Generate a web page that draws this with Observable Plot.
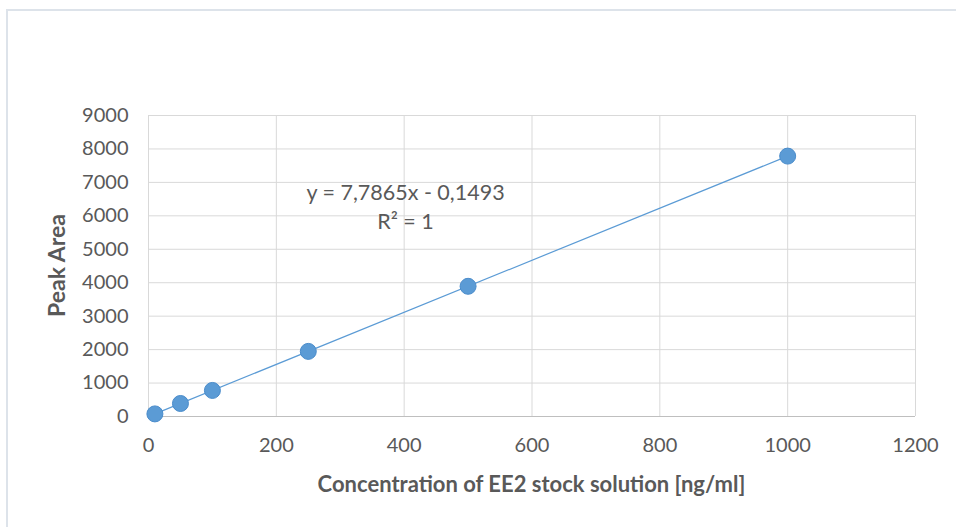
<!DOCTYPE html>
<html>
<head>
<meta charset="utf-8">
<script src="https://cdn.jsdelivr.net/npm/d3@7"></script>
<script src="https://cdn.jsdelivr.net/npm/@observablehq/plot@0.6"></script>
<style>
  html, body { margin: 0; padding: 0; background: #fff; }
  #wrap { position: relative; width: 956px; height: 527px; overflow: hidden; }
  #frame { position: absolute; left: 6px; top: 9px; width: 1000px; height: 600px;
           border-top: 2px solid #dde3ea; border-left: 2px solid #dde3ea; }
  #chart { position: absolute; left: 0; top: 0; }
</style>
</head>
<body>
<div id="wrap"><div id="frame"></div><div id="chart"></div></div>
<script>
const concentrations = [10, 50, 100, 250, 500, 1000];
const peakAreas = [78, 389, 779, 1947, 3893, 7786];
const slope = 7.7865;
const intercept = -0.1493;
const xTicks = [0, 200, 400, 600, 800, 1000, 1200];
const yTicks = [0, 1000, 2000, 3000, 4000, 5000, 6000, 7000, 8000, 9000];
const equationLabel = "y = 7,7865x - 0,1493";
const r2Label = "R² = 1";
const xTitle = "Concentration of EE2 stock solution [ng/ml]";
const yTitle = "Peak Area";

const points = concentrations.map((c, i) => ({x: c, y: peakAreas[i]}));
const trend = [concentrations[0], concentrations[concentrations.length - 1]]
  .map(c => ({x: c, y: slope * c + intercept}));

const font = "Lato, 'Open Sans', sans-serif";
const textColor = "#595959";
const fmt = d3.format("d");

const chart = Plot.plot({
  width: 956,
  height: 527,
  marginLeft: 148,
  marginRight: 41,
  marginTop: 115,
  marginBottom: 111,
  style: {fontFamily: font, fontSize: "20px", color: textColor, background: "transparent", overflow: "visible"},
  x: {domain: [0, 1200], ticks: xTicks, tickSize: 0, tickPadding: 21, label: null},
  y: {domain: [0, 9000], ticks: yTicks, tickSize: 0, tickPadding: 20, label: null},
  marks: [
    Plot.gridX(xTicks, {stroke: "#d9d9d9", strokeOpacity: 1, strokeWidth: 1}),
    Plot.gridY(yTicks, {stroke: "#d9d9d9", strokeOpacity: 1, strokeWidth: 1}),
    Plot.ruleY([0], {stroke: "#bfbfbf", strokeWidth: 1}),
    Plot.axisX({ticks: xTicks, tickSize: 0, tickPadding: 21, tickFormat: fmt, fill: textColor, fontSize: 20, label: null}),
    Plot.axisY({ticks: yTicks, tickSize: 0, tickPadding: 20, tickFormat: fmt, fill: textColor, fontSize: 20, label: null}),
    Plot.line(trend, {x: "x", y: "y", stroke: "#5b9bd5", strokeWidth: 1.2}),
    Plot.dot(points, {x: "x", y: "y", r: 8, fill: "#5b9bd5", stroke: "#4a8ccb", strokeWidth: 1}),
    Plot.text([equationLabel], {frameAnchor: "top-left", dx: 257, dy: 69, fontSize: 21.5, fill: textColor, textAnchor: "middle"}),
    Plot.text([r2Label], {frameAnchor: "top-left", dx: 257, dy: 98, fontSize: 21.5, fill: textColor, textAnchor: "middle"})
  ]
});

const svg = d3.select(chart);
const xs = chart.scale("x"), ys = chart.scale("y");
svg.append("text")
  .attr("x", (xs.apply(0) + xs.apply(1200)) / 2)
  .attr("y", 492)
  .attr("text-anchor", "middle")
  .attr("font-family", font).attr("font-size", 22).attr("font-weight", "bold")
  .attr("fill", textColor)
  .text(xTitle);
svg.append("text")
  .attr("transform", `translate(65,${(ys.apply(0) + ys.apply(9000)) / 2}) rotate(-90)`)
  .attr("text-anchor", "middle")
  .attr("font-family", font).attr("font-size", 23).attr("font-weight", "bold")
  .attr("fill", textColor)
  .text(yTitle);

document.getElementById("chart").appendChild(chart);
</script>
</body>
</html>
